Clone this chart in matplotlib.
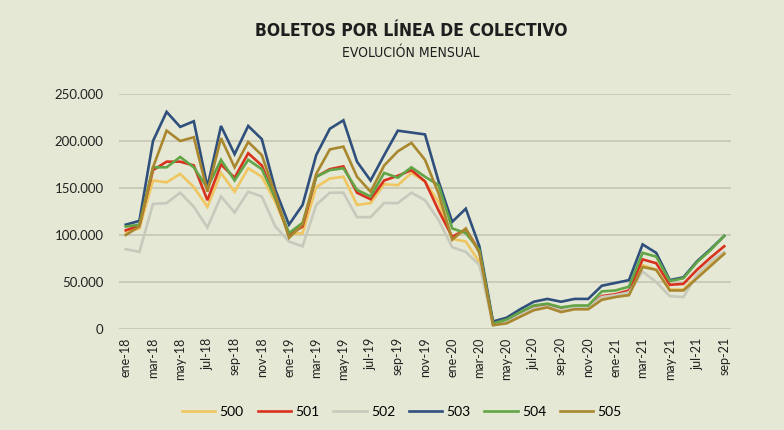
import matplotlib
matplotlib.use("Agg")
import matplotlib.pyplot as plt
from matplotlib.ticker import FuncFormatter

# meses ene-18 .. sep-21
meses = ["ene-18", "feb-18", "mar-18", "abr-18", "may-18", "jun-18", "jul-18", "ago-18",
         "sep-18", "oct-18", "nov-18", "dic-18",
         "ene-19", "feb-19", "mar-19", "abr-19", "may-19", "jun-19", "jul-19", "ago-19",
         "sep-19", "oct-19", "nov-19", "dic-19",
         "ene-20", "feb-20", "mar-20", "abr-20", "may-20", "jun-20", "jul-20", "ago-20",
         "sep-20", "oct-20", "nov-20", "dic-20",
         "ene-21", "feb-21", "mar-21", "abr-21", "may-21", "jun-21", "jul-21", "ago-21",
         "sep-21"]

# boletos (miles)
l500 = [103, 107, 158, 156, 165, 151, 130, 166, 146, 171, 162, 135,
        101, 102, 151, 160, 162, 132, 134, 154, 153, 166, 157, 135,
        96, 93, 71, 5, 7, 14, 21, 24, 19, 22, 22, 33,
        35, 38, 68, 63, 42, 42, 56, 70, 80]
l501 = [105, 110, 169, 178, 178, 174, 137, 175, 161, 187, 174, 139,
        100, 109, 162, 170, 173, 145, 138, 158, 163, 169, 157, 126,
        98, 106, 83, 6, 9, 16, 23, 25, 21, 24, 23, 35,
        37, 41, 74, 70, 47, 48, 63, 76, 88]
l502 = [85, 82, 133, 134, 145, 130, 108, 141, 124, 146, 141, 109,
        93, 88, 132, 145, 145, 119, 119, 134, 134, 145, 137, 116,
        87, 82, 68, 5, 8, 15, 22, 24, 20, 23, 23, 34,
        36, 39, 61, 50, 35, 34, 58, 72, 82]
l503 = [111, 115, 200, 231, 215, 221, 151, 216, 186, 216, 202, 148,
        111, 132, 185, 213, 222, 178, 158, 185, 211, 209, 207, 157,
        114, 128, 88, 8, 12, 21, 29, 32, 29, 32, 32, 46,
        49, 52, 90, 81, 52, 55, 72, 85, 99]
l504 = [109, 111, 172, 172, 183, 172, 150, 180, 158, 180, 170, 139,
        102, 113, 162, 169, 171, 148, 141, 166, 161, 172, 162, 153,
        107, 102, 84, 6, 10, 18, 25, 27, 23, 25, 25, 40,
        41, 45, 81, 77, 51, 54, 71, 84, 99]
l505 = [100, 109, 172, 211, 200, 204, 146, 203, 172, 199, 185, 143,
        97, 111, 165, 191, 194, 162, 146, 174, 189, 198, 180, 144,
        95, 107, 81, 4, 6, 13, 20, 23, 18, 21, 21, 31,
        34, 36, 66, 63, 41, 41, 54, 67, 80]

lineas = ["500", "501", "502", "503", "504", "505"]
series = [l500, l501, l502, l503, l504, l505]
colores = ["#f0c661", "#d8321f", "#c7c9bc", "#2f4f7d", "#62a546", "#a9872f"]

bg = "#e5e8d4"
fig = plt.figure(figsize=(7.84, 4.30), dpi=100, facecolor=bg)
ax = fig.add_axes([119 / 784, 1 - 329 / 430, 612 / 784, 235 / 430])
ax.set_facecolor(bg)

x = list(range(len(meses)))
for nombre, vals, c in zip(lineas, series, colores):
    ax.plot(x, [v * 1000 for v in vals], color=c, lw=1.9, label=nombre,
            solid_joinstyle="miter")

ax.set_xlim(-0.5, len(meses) - 0.5)
ax.set_ylim(0, 250000)
ax.set_yticks(range(0, 250001, 50000))
ax.yaxis.set_major_formatter(FuncFormatter(lambda v, p: f"{int(v):,}".replace(",", ".")))
ax.set_xticks(x[::2])
ax.set_xticklabels(meses[::2], rotation=90, fontsize=9, family="Lato", color="#222222")
for t in ax.get_yticklabels():
    t.set_fontsize(9.5)
    t.set_family("Lato")
    t.set_color("#222222")

ax.grid(axis="y", color="#c8cab7", lw=1.3)
ax.set_axisbelow(True)
ax.tick_params(axis="x", length=0, pad=6)
ax.tick_params(axis="y", length=0, pad=11)
for s in ax.spines.values():
    s.set_visible(False)

fig.text(411 / 784, 1 - 31 / 430, "BOLETOS POR LÍNEA DE COLECTIVO", ha="center", va="center",
         fontsize=12.5, fontweight="bold", family="DejaVu Sans", fontstretch="condensed",
         color="#1e1e1e")
fig.text(411 / 784, 1 - 53 / 430, "EVOLUCIÓN MENSUAL", ha="center", va="center",
         fontsize=10, family="DejaVu Sans", fontstretch="condensed", color="#1e1e1e")

fig.legend(loc="center", bbox_to_anchor=(402 / 784, 1 - 412 / 430), ncol=6, frameon=False,
           prop={"family": "Lato", "size": 10}, handlelength=2.4, handletextpad=0.3,
           columnspacing=1.0)

fig.savefig("out.png", dpi=100, facecolor=bg)
